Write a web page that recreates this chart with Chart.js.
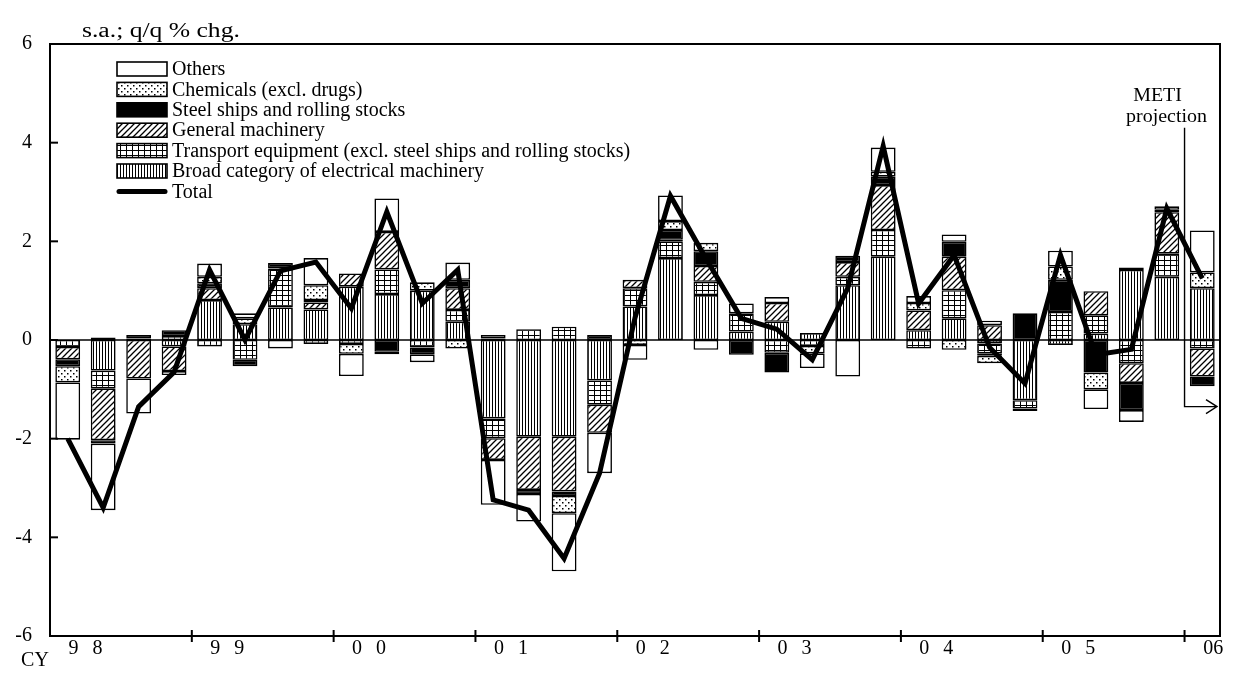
<!DOCTYPE html>
<html>
<head>
<meta charset="utf-8">
<script src="https://cdn.jsdelivr.net/npm/chart.js@4.4.1/dist/chart.umd.min.js"></script>
<style>
  html, body { margin: 0; padding: 0; background: #fff; }
  #wrap { width: 1239px; height: 691px; }
</style>
</head>
<body>
<div id="wrap"><canvas id="chart" width="1239" height="691"></canvas></div>
<script>
// Quarterly contributions to industrial production, CY1998 Q1 - CY2006 Q1
const quarters = [
  "98Q1", "98Q2", "98Q3", "98Q4", "99Q1", "99Q2", "99Q3", "99Q4",
  "00Q1", "00Q2", "00Q3", "00Q4", "01Q1", "01Q2", "01Q3", "01Q4",
  "02Q1", "02Q2", "02Q3", "02Q4", "03Q1", "03Q2", "03Q3", "03Q4",
  "04Q1", "04Q2", "04Q3", "04Q4", "05Q1", "05Q2", "05Q3", "05Q4",
  "06Q1"
]
const yearLabels = ["98", "99", "00", "01", "02", "03", "04", "05", "06"]
const yTicks = [-6, -4, -2, 0, 2, 4, 6]

const broad = [0, -0.62, 0, -0.13, 0.81, 0.32, 0.66, 0.62, 1.08, 0.93, 1.0, 0.37, -1.59, -1.96, -1.96, -0.82,
  0.68, 1.66, 0.91, 0.17, 0.37, 0.14, 1.11, 1.69, 0.2, 0.44, -0.07, -1.22, -0.1, 0.13, 1.42, 1.28, 1.05]
const transport = [-0.14, -0.36, 0.03, 0.08, -0.13, -0.4, 0.79, -0.08, -0.08, 0.5, -0.15, 0.24, -0.4, 0.22, 0.27, -0.49,
  0.37, 0.34, 0.27, 0.37, -0.26, -0.12, 0.17, 0.54, -0.17, 0.57, -0.2, -0.17, 0.57, 0.37, -0.47, 0.47, -0.17]
const general = [-0.25, -1.05, -0.78, -0.5, 0.24, 0, 0, 0.14, 0.27, 0.76, 0, 0.44, -0.44, -1.08, -1.11, -0.57,
  0.17, 0.03, 0.32, 0, 0.38, 0, 0.3, 0.91, 0.4, 0.68, 0.3, 0, 0, 0.49, -0.4, 0.84, -0.57]
const steel = [-0.14, -0.07, 0.07, 0.12, 0.1, -0.13, 0.11, 0.05, 0, -0.24, -0.14, 0.17, 0.03, -0.08, -0.09, 0.1,
  0, 0.2, 0.3, -0.3, -0.4, 0, 0.13, 0.17, 0, 0.3, -0.05, 0.54, 0.65, -0.66, -0.55, 0.05, -0.2]
const chemicals = [-0.33, 0.05, 0, 0, 0.13, 0.12, 0, 0.3, -0.2, -0.05, 0.17, -0.17, 0.07, 0, -0.35, 0,
  -0.1, 0.18, 0.17, 0, 0, -0.15, 0, 0.1, 0.15, -0.2, -0.15, 0, 0.27, -0.34, 0.05, 0, 0.32]
const others = [-1.16, -1.35, -0.71, -0.08, 0.27, 0.1, -0.17, 0.55, -0.45, 0.68, -0.16, 0.35, -0.91, -0.56, -1.18, -0.82,
  -0.3, 0.52, -0.2, 0.2, 0.12, -0.3, -0.74, 0.49, 0.14, 0.15, 0.09, -0.05, 0.32, -0.4, -0.24, 0.07, 0.85]
const total = [-2.0, -3.4, -1.35, -0.65, 1.42, 0.0, 1.4, 1.58, 0.64, 2.6, 0.74, 1.42, -3.24, -3.45, -4.43, -2.7,
  0.45, 2.92, 1.65, 0.44, 0.22, -0.4, 1.05, 3.93, 0.74, 1.72, -0.15, -0.88, 1.72, -0.3, -0.19, 2.67, 1.25]

const FONT = '20px "Liberation Serif"'

const canvas = document.getElementById("chart")
const c2d = canvas.getContext("2d")

function tile(w, h, paint) {
  const t = document.createElement("canvas")
  t.width = w
  t.height = h
  const g = t.getContext("2d")
  g.fillStyle = "#fff"
  g.fillRect(0, 0, w, h)
  g.fillStyle = "#000"
  g.strokeStyle = "#000"
  paint(g)
  return c2d.createPattern(t, "repeat")
}

const stripes = tile(3, 4, (g) => g.fillRect(0, 0, 1, 4))
const grid = tile(6, 5, (g) => { g.fillRect(0, 0, 6, 1); g.fillRect(0, 0, 1, 5) })
const hatch = tile(6, 6, (g) => {
  g.lineWidth = 1.3
  g.beginPath()
  g.moveTo(0, 6); g.lineTo(6, 0)
  g.moveTo(-1, 1); g.lineTo(1, -1)
  g.moveTo(5, 7); g.lineTo(7, 5)
  g.stroke()
})
const dots = tile(6, 6, (g) => { g.fillRect(1, 1, 1.5, 1.5); g.fillRect(4, 4, 1.5, 1.5) })

function barSet(label, data, fill) {
  return {
    type: "bar",
    label: label,
    data: data,
    backgroundColor: fill,
    borderColor: "#000",
    borderWidth: 1.6,
    borderSkipped: false,
    stack: "parts",
    order: 1,
  }
}

function wideText(ctx, text, x, y, align, sx) {
  ctx.save()
  ctx.translate(x, y)
  ctx.scale(sx, 1)
  ctx.textAlign = align
  ctx.fillText(text, 0, 0)
  ctx.restore()
}

// frame, axes, labels, legend and the projection note
const decorations = {
  id: "decorations",
  beforeDatasetsDraw(chart) {
    const { ctx, chartArea: a, scales: { y } } = chart
    ctx.save()
    ctx.strokeStyle = "#000"
    ctx.lineWidth = 1.6
    ctx.beginPath()
    ctx.moveTo(a.left, y.getPixelForValue(0))
    ctx.lineTo(a.right, y.getPixelForValue(0))
    ctx.stroke()
    ctx.restore()
  },
  afterDraw(chart) {
    const { ctx, chartArea: a, scales: { x, y } } = chart
    ctx.save()
    ctx.strokeStyle = "#000"
    ctx.fillStyle = "#000"
    ctx.lineWidth = 2
    ctx.strokeRect(a.left, a.top, a.right - a.left, a.bottom - a.top)

    // y ticks (inward) and labels
    ctx.font = FONT
    ctx.textBaseline = "middle"
    yTicks.forEach((v) => {
      const py = y.getPixelForValue(v)
      ctx.beginPath()
      ctx.moveTo(a.left, py)
      ctx.lineTo(a.left + 8, py)
      ctx.stroke()
      ctx.textAlign = "right"
      ctx.fillText(String(v), a.left - 18, py)
    })

    // year boundaries and labels
    const half = (x.getPixelForValue(1) - x.getPixelForValue(0)) / 2
    yearLabels.forEach((yr, k) => {
      const s = k * 4
      const bx = x.getPixelForValue(s) - half
      if (s > 0) {
        ctx.beginPath()
        ctx.moveTo(bx, a.bottom - 6)
        ctx.lineTo(bx, a.bottom + 6)
        ctx.stroke()
      }
      const ly = a.bottom + 13
      ctx.textAlign = "center"
      if (s + 3 < quarters.length) {
        const cx = x.getPixelForValue(s) + half
        ctx.fillText(yr[0], cx - 12, ly)
        ctx.fillText(yr[1], cx + 12, ly)
      } else {
        ctx.fillText(yr, x.getPixelForValue(s) + 11, ly)
      }
    })
    ctx.fillText("CY", 35, a.bottom + 25)

    // unit label
    wideText(ctx, "s.a.; q/q % chg.", 82, 32, "left", 1.28)

    // legend
    const rows = chart.data.datasets.filter((d) => d.type === "bar").reverse()
    rows.push(chart.data.datasets.find((d) => d.type === "line"))
    const lx = a.left + 67
    rows.forEach((d, i) => {
      const cy = a.top + 25 + i * 20.4
      if (d.type === "bar") {
        ctx.fillStyle = d.backgroundColor
        ctx.fillRect(lx, cy - 7, 50, 14)
        ctx.lineWidth = 1.6
        ctx.strokeRect(lx, cy - 7, 50, 14)
      } else {
        ctx.lineWidth = 5
        ctx.lineCap = "round"
        ctx.beginPath()
        ctx.moveTo(lx + 2, cy)
        ctx.lineTo(lx + 48, cy)
        ctx.stroke()
        ctx.lineCap = "butt"
      }
      ctx.fillStyle = "#000"
      ctx.textAlign = "left"
      ctx.fillText(d.label, lx + 55, cy + 1)
    })

    // METI projection marker
    const px = x.getPixelForValue(quarters.length - 1) - half
    const arrowY = y.getPixelForValue(-1.35)
    ctx.lineWidth = 1.4
    ctx.beginPath()
    ctx.moveTo(px, y.getPixelForValue(4.3))
    ctx.lineTo(px, arrowY)
    ctx.lineTo(a.right - 3, arrowY)
    ctx.moveTo(a.right - 14, arrowY - 7)
    ctx.lineTo(a.right - 3, arrowY)
    ctx.lineTo(a.right - 14, arrowY + 7)
    ctx.stroke()
    ctx.font = '19px "Liberation Serif"'
    wideText(ctx, "METI", px - 27, 96, "center", 1.05)
    wideText(ctx, "projection", px - 18, 117, "center", 1.05)
    ctx.restore()
  },
}

new Chart(canvas, {
  data: {
    labels: quarters,
    datasets: [
      barSet("Broad category of electrical machinery", broad, stripes),
      barSet("Transport equipment (excl. steel ships and rolling stocks)", transport, grid),
      barSet("General machinery", general, hatch),
      barSet("Steel ships and rolling stocks", steel, "#000"),
      barSet("Chemicals (excl. drugs)", chemicals, dots),
      barSet("Others", others, "#fff"),
      {
        type: "line",
        label: "Total",
        data: total,
        borderColor: "#000",
        borderWidth: 5,
        pointRadius: 0,
        tension: 0,
        fill: false,
        stack: "total",
        order: 0,
      },
    ],
  },
  options: {
    responsive: false,
    animation: false,
    layout: { padding: { left: 50, right: 19, top: 44, bottom: 55 } },
    datasets: { bar: { barPercentage: 0.7, categoryPercentage: 1 } },
    plugins: { legend: { display: false }, tooltip: { enabled: false } },
    scales: {
      x: { display: false, stacked: true, offset: true },
      y: { display: false, stacked: true, min: -6, max: 6, ticks: { stepSize: 2 } },
    },
  },
  plugins: [decorations],
})
</script>
</body>
</html>
